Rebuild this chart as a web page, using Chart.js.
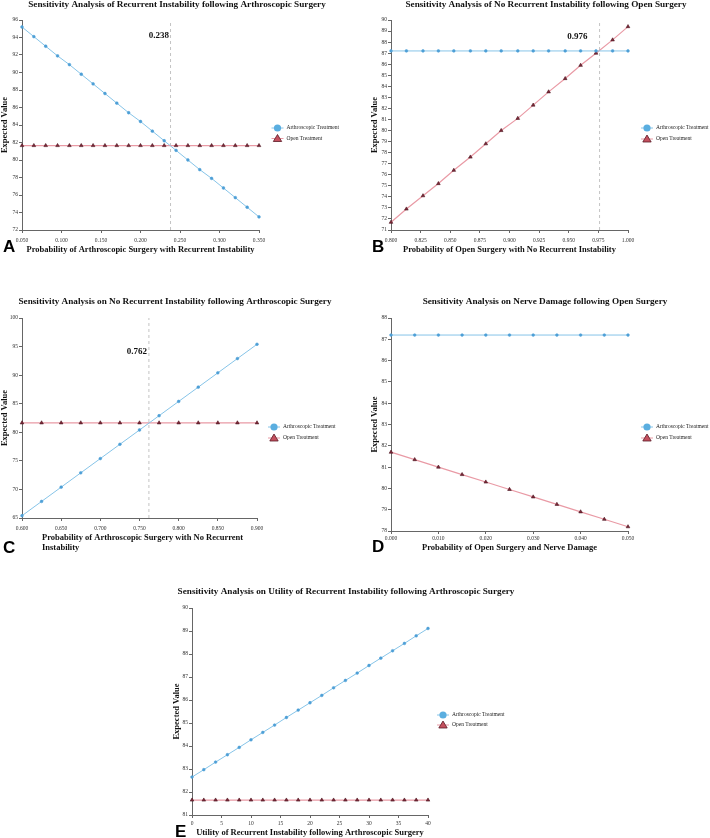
<!DOCTYPE html>
<html>
<head>
<meta charset="utf-8">
<script src="https://cdn.jsdelivr.net/npm/chart.js@4.4.1/dist/chart.umd.min.js"></script>
<style>
html, body { margin: 0; padding: 0; background: #fff; width: 710px; height: 838px; overflow: hidden; }
canvas { position: absolute; }
</style>
</head>
<body>
<canvas id="chart-a" width="355" height="285" style="left:0px;top:0px"></canvas>
<canvas id="chart-b" width="355" height="285" style="left:355px;top:0px"></canvas>
<canvas id="chart-c" width="355" height="285" style="left:0px;top:285px"></canvas>
<canvas id="chart-d" width="355" height="285" style="left:355px;top:285px"></canvas>
<canvas id="chart-e" width="355" height="268" style="left:160px;top:570px"></canvas>
<script>
// ---- data ----

// A: recurrent instability after arthroscopic surgery
const aX = [0.050, 0.065, 0.080, 0.095, 0.110, 0.125, 0.140, 0.155, 0.170, 0.185, 0.200,
            0.215, 0.230, 0.245, 0.260, 0.275, 0.290, 0.305, 0.320, 0.335, 0.350];
const aArthro = [95.2, 94.1, 93.0, 91.9, 90.9, 89.8, 88.7, 87.6, 86.5, 85.4, 84.4,
                 83.3, 82.2, 81.1, 80.0, 78.9, 77.9, 76.8, 75.7, 74.6, 73.5];
const aOpen = [81.65, 81.65, 81.65, 81.65, 81.65, 81.65, 81.65, 81.65, 81.65, 81.65, 81.65,
               81.65, 81.65, 81.65, 81.65, 81.65, 81.65, 81.65, 81.65, 81.65, 81.65];
const aCut = 0.238;
const aXTicks = [0.05, 0.10, 0.15, 0.20, 0.25, 0.30, 0.35];
const aYTicks = [72, 74, 76, 78, 80, 82, 84, 86, 88, 90, 92, 94, 96];

// B: no recurrent instability after open surgery
const bX = [0.800, 0.813, 0.827, 0.840, 0.853, 0.867, 0.880, 0.893,
            0.907, 0.920, 0.933, 0.947, 0.960, 0.973, 0.987, 1.000];
const bArthro = [87.2, 87.2, 87.2, 87.2, 87.2, 87.2, 87.2, 87.2,
                 87.2, 87.2, 87.2, 87.2, 87.2, 87.2, 87.2, 87.2];
const bOpen = [71.7, 72.9, 74.1, 75.2, 76.4, 77.6, 78.8, 80.0,
               81.1, 82.3, 83.5, 84.7, 85.9, 87.0, 88.2, 89.4];
const bCut = 0.976;
const bXTicks = [0.800, 0.825, 0.850, 0.875, 0.900, 0.925, 0.950, 0.975, 1.000];
const bYTicks = [71, 72, 73, 74, 75, 76, 77, 78, 79, 80, 81, 82, 83, 84, 85, 86, 87, 88, 89, 90];

// C: no recurrent instability after arthroscopic surgery
const cX = [0.600, 0.625, 0.650, 0.675, 0.700, 0.725, 0.750, 0.775, 0.800, 0.825, 0.850, 0.875, 0.900];
const cArthro = [65.4, 67.9, 70.4, 72.9, 75.4, 77.9, 80.4, 82.9, 85.4, 87.9, 90.4, 92.9, 95.4];
const cOpen = [81.65, 81.65, 81.65, 81.65, 81.65, 81.65, 81.65, 81.65, 81.65, 81.65, 81.65, 81.65, 81.65];
const cCut = 0.762;
const cXTicks = [0.60, 0.65, 0.70, 0.75, 0.80, 0.85, 0.90];
const cYTicks = [65, 70, 75, 80, 85, 90, 95, 100];

// D: nerve damage after open surgery
const dX = [0.000, 0.005, 0.010, 0.015, 0.020, 0.025, 0.030, 0.035, 0.040, 0.045, 0.050];
const dArthro = [87.2, 87.2, 87.2, 87.2, 87.2, 87.2, 87.2, 87.2, 87.2, 87.2, 87.2];
const dOpen = [81.7, 81.35, 81.0, 80.65, 80.3, 79.95, 79.6, 79.25, 78.9, 78.55, 78.2];
const dXTicks = [0.00, 0.01, 0.02, 0.03, 0.04, 0.05];
const dYTicks = [78, 79, 80, 81, 82, 83, 84, 85, 86, 87, 88];

// E: utility of recurrent instability after arthroscopic surgery
const eX = [0, 2, 4, 6, 8, 10, 12, 14, 16, 18, 20, 22, 24, 26, 28, 30, 32, 34, 36, 38, 40];
const eArthro = [82.65, 82.97, 83.30, 83.62, 83.94, 84.27, 84.59, 84.91, 85.24, 85.56, 85.88,
                 86.20, 86.53, 86.85, 87.17, 87.50, 87.82, 88.14, 88.46, 88.79, 89.11];
const eOpen = [81.65, 81.65, 81.65, 81.65, 81.65, 81.65, 81.65, 81.65, 81.65, 81.65, 81.65,
               81.65, 81.65, 81.65, 81.65, 81.65, 81.65, 81.65, 81.65, 81.65, 81.65];
const eXTicks = [0, 5, 10, 15, 20, 25, 30, 35, 40];
const eYTicks = [81, 82, 83, 84, 85, 86, 87, 88, 89, 90];

// ---- styling ----
const SERIF = "'Liberation Serif', 'Times New Roman', serif";
const BLUE_LINE = '#86c4e8';
const BLUE_PT = '#4d9fd6';
const RED_LINE = '#e99aa5';
const RED_PT = '#7e2738';
const AXIS = '#666';

// Titles, panel letters, cut-off label, wrapped x title and legend
const panelDecor = {
    id: 'panelDecor',
    afterDraw(chart, args, o) {
        const { ctx, chartArea } = chart;
        ctx.save();
        ctx.fillStyle = '#111';
        ctx.textBaseline = 'middle';

        ctx.font = `bold 9.2px ${SERIF}`;
        ctx.textAlign = 'center';
        ctx.fillText(o.title, o.titleX, o.titleY);

        if (o.xTitleLines) {
            ctx.font = `bold 8.5px ${SERIF}`;
            ctx.textAlign = 'left';
            o.xTitleLines.forEach((t, i) => ctx.fillText(t, o.xTitleX, o.xTitleY + i * 10));
        }

        if (o.cut != null) {
            const x = chart.scales.x.getPixelForValue(o.cut);
            ctx.font = `bold 9px ${SERIF}`;
            ctx.textAlign = 'right';
            ctx.fillText(o.cut.toFixed(3), x + o.cutDx, o.cutY);
        }

        ctx.font = "bold 17px 'Liberation Sans', Arial, sans-serif";
        ctx.textAlign = 'left';
        ctx.textBaseline = 'alphabetic';
        ctx.fillStyle = '#000';
        ctx.fillText(o.letter, o.letterX, o.letterY);

        // legend: line with marker, as in the original
        const mx = chartArea.right + o.legendDx;
        ctx.textBaseline = 'middle';
        ctx.font = `5.5px ${SERIF}`;
        ctx.lineWidth = 1;

        let y = o.legendY[0];
        ctx.strokeStyle = BLUE_LINE;
        ctx.beginPath(); ctx.moveTo(mx - 6, y); ctx.lineTo(mx + 6, y); ctx.stroke();
        ctx.fillStyle = '#5aaee0';
        ctx.beginPath(); ctx.arc(mx, y, 3.6, 0, Math.PI * 2); ctx.fill();
        ctx.fillStyle = '#222';
        ctx.fillText('Arthroscopic Treatment', mx + 9, y);

        y = o.legendY[1];
        ctx.strokeStyle = RED_LINE;
        ctx.beginPath(); ctx.moveTo(mx - 6, y); ctx.lineTo(mx + 6, y); ctx.stroke();
        ctx.fillStyle = '#c4505e';
        ctx.strokeStyle = '#5a1a26';
        ctx.lineWidth = 0.8;
        ctx.beginPath();
        ctx.moveTo(mx, y - 4); ctx.lineTo(mx + 4.2, y + 3); ctx.lineTo(mx - 4.2, y + 3); ctx.closePath();
        ctx.fill(); ctx.stroke();
        ctx.fillStyle = '#222';
        ctx.fillText('Open Treatment', mx + 9, y);

        ctx.restore();
    },
};

function drawPanel(id, d, g) {
    const ctx = document.getElementById(id).getContext('2d');
    const last = a => a[a.length - 1];
    const datasets = [
        {
            label: 'Arthroscopic Treatment',
            data: d.x.map((v, i) => ({ x: v, y: d.arthro[i] })),
            borderColor: BLUE_LINE,
            borderWidth: 1,
            pointStyle: 'circle',
            pointRadius: 1.4,
            pointBackgroundColor: BLUE_PT,
            pointBorderColor: BLUE_PT,
            pointBorderWidth: 0.5,
        },
        {
            label: 'Open Treatment',
            data: d.x.map((v, i) => ({ x: v, y: d.open[i] })),
            borderColor: RED_LINE,
            borderWidth: 1.2,
            pointStyle: 'triangle',
            pointRadius: 2.1,
            pointBackgroundColor: RED_PT,
            pointBorderColor: '#4a1520',
            pointBorderWidth: 0.6,
        },
    ];
    if (d.cut != null) {
        datasets.push({
            label: 'cut',
            data: [{ x: d.cut, y: d.yTicks[0] }, { x: d.cut, y: last(d.yTicks) }],
            borderColor: '#c4c4c4',
            borderWidth: 1,
            borderDash: [3, 3],
            pointRadius: 0,
        });
    }

    return new Chart(ctx, {
        type: 'line',
        data: { datasets },
        options: {
            responsive: false,
            animation: false,
            clip: false,
            layout: { padding: g.padding },
            plugins: {
                legend: { display: false },
                tooltip: { enabled: false },
                panelDecor: g.decor,
            },
            scales: {
                x: {
                    type: 'linear',
                    min: d.xTicks[0],
                    max: last(d.xTicks),
                    afterBuildTicks: (axis) => { axis.ticks = d.xTicks.map(v => ({ value: v })); },
                    afterFit: (s) => { s.height = g.xH; },
                    ticks: {
                        callback: (v) => v.toFixed(d.digits),
                        font: { family: SERIF, size: 5.5 },
                        color: '#333',
                        padding: g.xPad,
                        maxRotation: 0,
                        autoSkip: false,
                    },
                    grid: { drawOnChartArea: false, tickLength: 3, color: AXIS },
                    border: { color: AXIS, width: 1 },
                    title: {
                        display: !!d.xTitle,
                        text: d.xTitle || '',
                        font: { family: SERIF, size: 8.5, weight: 'bold' },
                        color: '#111',
                        padding: 0,
                    },
                },
                y: {
                    min: d.yTicks[0],
                    max: last(d.yTicks),
                    afterBuildTicks: (axis) => { axis.ticks = d.yTicks.map(v => ({ value: v })); },
                    afterFit: (s) => { s.width = g.yW; },
                    ticks: {
                        font: { family: SERIF, size: 5.5 },
                        color: '#333',
                        padding: 1,
                        autoSkip: false,
                    },
                    grid: { drawOnChartArea: false, tickLength: 3, color: AXIS },
                    border: { color: AXIS, width: 1 },
                    title: {
                        display: true,
                        text: 'Expected Value',
                        font: { family: SERIF, size: 8.5, weight: 'bold' },
                        color: '#111',
                        padding: 0,
                    },
                },
            },
        },
        plugins: [panelDecor],
    });
}

drawPanel('chart-a',
    { x: aX, arthro: aArthro, open: aOpen, cut: aCut, xTicks: aXTicks, yTicks: aYTicks, digits: 3,
      xTitle: 'Probability of Arthroscopic Surgery with Recurrent Instability' },
    { padding: { left: 0, right: 96, top: 20, bottom: 30 }, xH: 25, yW: 22, xPad: 4,
      decor: { title: 'Sensitivity Analysis of Recurrent Instability following Arthroscopic Surgery',
               titleX: 177, titleY: 5, letter: 'A', letterX: 3, letterY: 252,
               cut: aCut, cutDx: -1.5, cutY: 36, legendDx: 18.5, legendY: [128, 138.5] } });

drawPanel('chart-b',
    { x: bX, arthro: bArthro, open: bOpen, cut: bCut, xTicks: bXTicks, yTicks: bYTicks, digits: 3,
      xTitle: 'Probability of Open Surgery with No Recurrent Instability' },
    { padding: { left: 15, right: 82, top: 20, bottom: 30 }, xH: 25, yW: 21, xPad: 4,
      decor: { title: 'Sensitivity Analysis of No Recurrent Instability following Open Surgery',
               titleX: 191, titleY: 5, letter: 'B', letterX: 17, letterY: 252,
               cut: bCut, cutDx: -12, cutY: 37, legendDx: 19, legendY: [128, 139] } });

drawPanel('chart-c',
    { x: cX, arthro: cArthro, open: cOpen, cut: cCut, xTicks: cXTicks, yTicks: cYTicks, digits: 3 },
    { padding: { left: 0, right: 98, top: 33, bottom: 27 }, xH: 25, yW: 22, xPad: 4,
      decor: { title: 'Sensitivity Analysis on No Recurrent Instability following Arthroscopic Surgery',
               titleX: 175, titleY: 17, letter: 'C', letterX: 3, letterY: 268,
               xTitleLines: ['Probability of Arthroscopic Surgery with No Recurrent', 'Instability'],
               xTitleX: 42, xTitleY: 253,
               cut: cCut, cutDx: -2, cutY: 67, legendDx: 17, legendY: [142, 153] } });

drawPanel('chart-d',
    { x: dX, arthro: dArthro, open: dOpen, xTicks: dXTicks, yTicks: dYTicks, digits: 3,
      xTitle: 'Probability of Open Surgery and Nerve Damage' },
    { padding: { left: 15, right: 82, top: 33, bottom: 17 }, xH: 22, yW: 21, xPad: 1,
      decor: { title: 'Sensitivity Analysis on Nerve Damage following Open Surgery',
               titleX: 190, titleY: 17, letter: 'D', letterX: 17, letterY: 267,
               legendDx: 19, legendY: [142, 153] } });

drawPanel('chart-e',
    { x: eX, arthro: eArthro, open: eOpen, xTicks: eXTicks, yTicks: eYTicks, digits: 0,
      xTitle: 'Utility of Recurrent Instability following Arthroscopic Surgery' },
    { padding: { left: 12, right: 87, top: 38, bottom: 0 }, xH: 23, yW: 20, xPad: 2,
      decor: { title: 'Sensitivity Analysis on Utility of Recurrent Instability following Arthroscopic Surgery',
               titleX: 186, titleY: 22, letter: 'E', letterX: 15, letterY: 267,
               legendDx: 15, legendY: [145, 155] } });
</script>
</body>
</html>
